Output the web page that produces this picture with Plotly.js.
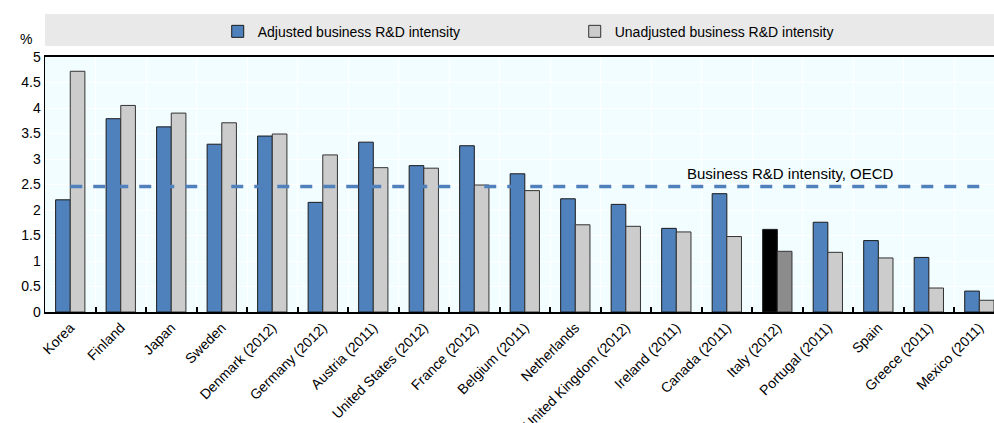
<!DOCTYPE html>
<html>
<head>
<meta charset="utf-8">
<script src="https://cdn.plot.ly/plotly-3.0.1.min.js"></script>
<style>
  html, body { margin: 0; padding: 0; background: #ffffff; }
  #chart { width: 994px; height: 423px; }
</style>
</head>
<body>
<div id="chart"></div>
<script>
// ---- Data ----
const countries = ["Korea", "Finland", "Japan", "Sweden", "Denmark (2012)", "Germany (2012)",
  "Austria (2011)", "United States (2012)", "France (2012)", "Belgium (2011)", "Netherlands",
  "United Kingdom (2012)", "Ireland (2011)", "Canada (2011)", "Italy (2012)", "Portugal (2011)",
  "Spain", "Greece (2011)", "Mexico (2011)"];
const adjusted = [2.20, 3.79, 3.63, 3.29, 3.45, 2.15, 3.33, 2.87, 3.26, 2.71, 2.22, 2.11,
  1.64, 2.32, 1.62, 1.76, 1.40, 1.07, 0.41];
const unadjusted = [4.72, 4.05, 3.90, 3.71, 3.49, 3.08, 2.83, 2.82, 2.49, 2.38, 1.71, 1.68,
  1.57, 1.48, 1.19, 1.17, 1.06, 0.47, 0.23];
const oecdValue = 2.46;
const highlight = "Italy (2012)";
const yTicks = [0, 0.5, 1, 1.5, 2, 2.5, 3, 3.5, 4, 4.5, 5];

// ---- Styles ----
const FONT = "Liberation Sans, Arial, sans-serif";
const blue = "#4f81bd", grey = "#cccccc";
const adjColors = countries.map(c => c === highlight ? "#000000" : blue);
const unadjColors = countries.map(c => c === highlight ? "#8c8c8c" : grey);

const traces = [
  {
    type: "bar", name: "Adjusted business R&D intensity",
    x: countries, y: adjusted,
    marker: { color: adjColors, line: { color: "#1a1a1a", width: 1 } },
    hoverinfo: "x+y"
  },
  {
    type: "bar", name: "Unadjusted business R&D intensity",
    x: countries, y: unadjusted,
    marker: { color: unadjColors, line: { color: "#333333", width: 1 } },
    hoverinfo: "x+y"
  },
  {
    type: "scatter", mode: "lines", name: "Business R&D intensity, OECD",
    x: countries, y: countries.map(() => oecdValue),
    line: { color: "#4f81bd", width: 3.5, dash: "12px,11px" },
    showlegend: false, hoverinfo: "y"
  }
];

const layout = {
  width: 994, height: 423,
  margin: { l: 45, r: 0, t: 57, b: 111 },
  paper_bgcolor: "#ffffff",
  plot_bgcolor: "#f2fdff",
  font: { family: FONT, size: 13, color: "#000000" },
  barmode: "group",
  bargap: 0.42,
  bargroupgap: 0,
  showlegend: true,
  legend: {
    orientation: "h",
    x: 0.182, xanchor: "left",
    y: 1.099, yanchor: "middle",
    bgcolor: "rgba(0,0,0,0)",
    entrywidth: 312, entrywidthmode: "pixels",
    font: { family: FONT, size: 14, color: "#000" },
    traceorder: "normal"
  },
  xaxis: {
    type: "category",
    range: [-0.5, 18.29],
    tickangle: -45,
    tickson: "boundaries",
    ticks: "inside", ticklen: 5, tickwidth: 2, tickcolor: "#000",
    showgrid: true, gridcolor: "#ffffff", gridwidth: 1,
    showline: true, linecolor: "#000", linewidth: 2, mirror: true,
    tickfont: { family: FONT, size: 14, color: "#000" },
    fixedrange: true
  },
  yaxis: {
    range: [0, 5],
    tickvals: yTicks,
    ticktext: yTicks.map(v => String(v)),
    ticks: "", showgrid: true, gridcolor: "#ffffff", gridwidth: 1,
    zeroline: false,
    showline: true, linecolor: "#000", linewidth: 1.5, mirror: true,
    tickfont: { family: FONT, size: 14, color: "#000" },
    fixedrange: true
  },
  shapes: [
    {
      type: "rect", xref: "paper", yref: "paper",
      x0: 0, x1: 1, y0: 1.043, y1: 1.169,
      fillcolor: "#e9e9e9", line: { width: 0 }, layer: "below"
    }
  ],
  annotations: [
    {
      xref: "paper", yref: "paper", x: -0.012, y: 1.07,
      xanchor: "right", yanchor: "middle", showarrow: false,
      text: "%", font: { family: FONT, size: 14, color: "#000" }
    },
    {
      xref: "x", yref: "y", x: "Canada (2011)", y: oecdValue,
      xanchor: "left", yanchor: "bottom", xshift: -42, yshift: 3,
      showarrow: false, text: "Business R&D intensity, OECD",
      font: { family: FONT, size: 15, color: "#000" }
    }
  ]
};

Plotly.newPlot("chart", traces, layout, { displayModeBar: false, staticPlot: true });
</script>
</body>
</html>
